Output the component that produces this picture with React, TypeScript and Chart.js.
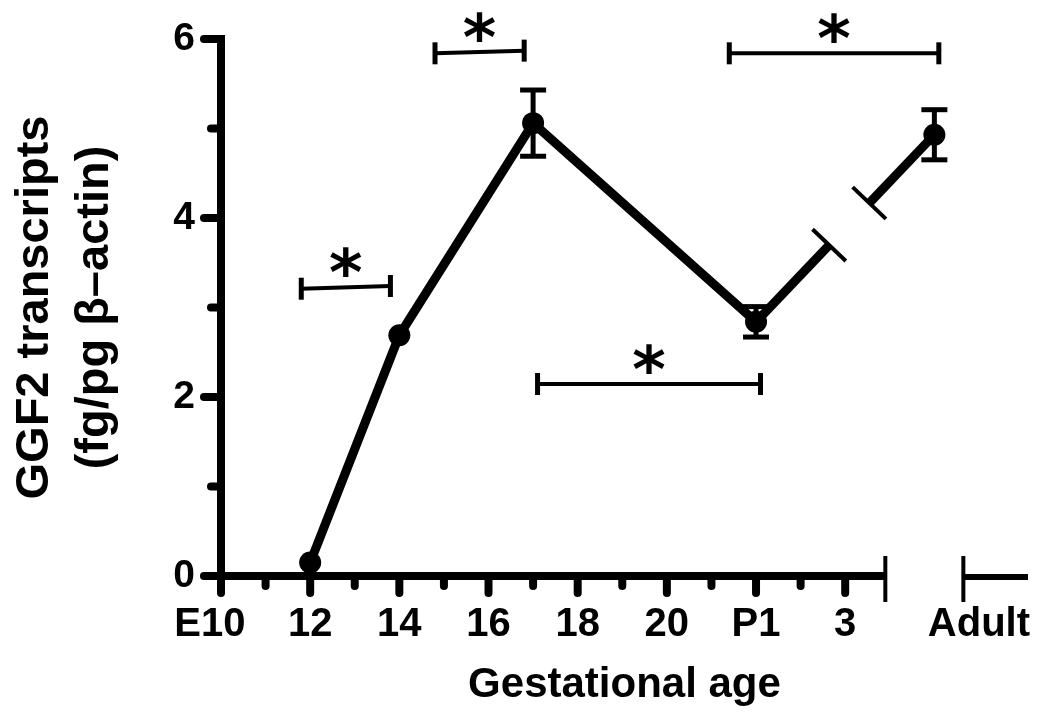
import React, { useEffect, useRef } from "react";
import { Chart, registerables } from "chart.js";

Chart.register(...registerables);

// ---- data ----
const ageValues = [12, 14, 17, 22, 26];
const meanValues = [0.15, 2.69, 5.06, 2.84, 4.93];
const semValues = [0, 0, 0.37, 0.17, 0.28];

const xTickValues = [10, 11, 12, 13, 14, 15, 16, 17, 18, 19, 20, 21, 22, 23, 24, 27];
const xTickLabels: Record<number, string> = {
  10: "E10  ", 12: "12", 14: "14", 16: "16", 18: "18", 20: "20", 22: "P1", 24: "3", 27: "Adult",
};
const yTickValues = [0, 1, 2, 3, 4, 5, 6];
const yTickLabels: Record<number, string> = { 0: "0", 2: "2", 4: "4", 6: "6" };

const sigStart = [11.8, 14.8, 17.1, 21.4];
const sigEnd = [13.8, 16.8, 22.1, 26.1];
const sigLevelStart = [3.21, 5.84, 2.145, 5.84];
const sigLevelEnd = [3.24, 5.87, 2.145, 5.84];
const sigMarks = ["*", "*", "*", "*"];

const xTitle = "Gestational age";
const yTitle = ["GGF2 transcripts", "(fg/pg \u03b2\u2013actin)"];

// ---- style ----
const FONT = '"Liberation Sans", Arial, Helvetica, sans-serif';
const X_MIN = 10;
const X_MAX = 28.1;
const AXIS_BREAK = [24.9, 26.65];
const LINE_GAP = [0.41, 0.635];

const line = (ctx: CanvasRenderingContext2D, x1: number, y1: number, x2: number, y2: number) => {
  ctx.beginPath();
  ctx.moveTo(x1, y1);
  ctx.lineTo(x2, y2);
  ctx.stroke();
};

const decorPlugin = {
  id: "decor",
  beforeDatasetsDraw(chart: any) {
    const ctx: CanvasRenderingContext2D = chart.ctx;
    const xs = chart.scales.x;
    const ys = chart.scales.y;
    const x0 = xs.getPixelForValue(X_MIN);
    const y0 = ys.getPixelForValue(0);
    const yTop = ys.getPixelForValue(6);
    ctx.save();
    ctx.strokeStyle = "#000";
    // y axis
    ctx.lineWidth = 8;
    ctx.lineCap = "butt";
    line(ctx, x0, yTop - 4, x0, y0 + 4);
    // y ticks
    ctx.lineCap = "round";
    yTickValues.forEach((v) => {
      const py = ys.getPixelForValue(v);
      const len = v % 2 === 0 ? 17 : 10;
      line(ctx, x0 - len, py, x0, py);
    });
    // x axis first part
    const b1 = xs.getPixelForValue(AXIS_BREAK[0]);
    const b2 = xs.getPixelForValue(AXIS_BREAK[1]);
    ctx.lineCap = "butt";
    line(ctx, x0, y0, b1, y0);
    ctx.lineCap = "round";
    xTickValues.forEach((v) => {
      if (v > AXIS_BREAK[0]) return;
      const px = xs.getPixelForValue(v);
      const len = v % 2 === 0 ? 17 : 10;
      line(ctx, px, y0, px, y0 + len);
    });
    // break bars
    ctx.lineCap = "butt";
    ctx.lineWidth = 4;
    line(ctx, b1, y0 - 20, b1, y0 + 26);
    line(ctx, b2, y0 - 20, b2, y0 + 26);
    ctx.lineWidth = 6;
    line(ctx, b2, y0 + 1, chart.chartArea.right, y0 + 1);
    ctx.restore();
  },
  afterDatasetsDraw(chart: any) {
    const ctx: CanvasRenderingContext2D = chart.ctx;
    const xs = chart.scales.x;
    const ys = chart.scales.y;
    const meta = chart.getDatasetMeta(0);
    ctx.save();
    ctx.strokeStyle = "#000";
    ctx.fillStyle = "#000";

    // broken segment between index 3 and 4
    const p = meta.data[3];
    const q = meta.data[4];
    const dx = q.x - p.x;
    const dy = q.y - p.y;
    const L = Math.hypot(dx, dy);
    const nx = -dy / L;
    const ny = dx / L;
    const e1x = p.x + dx * LINE_GAP[0];
    const e1y = p.y + dy * LINE_GAP[0];
    const s2x = p.x + dx * LINE_GAP[1];
    const s2y = p.y + dy * LINE_GAP[1];
    ctx.lineWidth = 9;
    ctx.lineCap = "butt";
    line(ctx, p.x, p.y, e1x, e1y);
    line(ctx, s2x, s2y, q.x, q.y);
    ctx.lineWidth = 4;
    const h = 23;
    line(ctx, e1x - nx * h, e1y - ny * h, e1x + nx * h, e1y + ny * h);
    line(ctx, s2x - nx * h, s2y - ny * h, s2x + nx * h, s2y + ny * h);

    // error bars
    ctx.lineWidth = 5;
    ageValues.forEach((a, i) => {
      const s = semValues[i];
      if (!s) return;
      const px = xs.getPixelForValue(a);
      const top = ys.getPixelForValue(meanValues[i] + s);
      const bot = ys.getPixelForValue(meanValues[i] - s);
      line(ctx, px, top, px, bot);
      line(ctx, px - 13, top, px + 13, top);
      line(ctx, px - 13, bot, px + 13, bot);
    });

    // significance brackets
    ctx.font = `bold 64px "DejaVu Sans", ${FONT}`;
    ctx.textAlign = "center";
    ctx.textBaseline = "alphabetic";
    sigStart.forEach((sx, i) => {
      const x1 = xs.getPixelForValue(sx);
      const x2 = xs.getPixelForValue(sigEnd[i]);
      const y1 = ys.getPixelForValue(sigLevelStart[i]);
      const y2 = ys.getPixelForValue(sigLevelEnd[i]);
      ctx.lineWidth = 4;
      line(ctx, x1, y1, x2, y2);
      ctx.lineWidth = 5;
      line(ctx, x1, y1 - 11, x1, y1 + 11);
      line(ctx, x2, y2 - 11, x2, y2 + 11);
      const m = ctx.measureText(sigMarks[i]);
      const cx = (x1 + x2) / 2;
      const cy = (y1 + y2) / 2 - 25;
      const base = cy + (m.actualBoundingBoxAscent - m.actualBoundingBoxDescent) / 2;
      ctx.fillText(sigMarks[i], cx, base);
    });
    ctx.restore();
  },
};

export default function App() {
  const ref = useRef<HTMLCanvasElement | null>(null);

  useEffect(() => {
    if (!ref.current) return;
    const chart = new Chart(ref.current, {
      type: "line",
      data: {
        datasets: [
          {
            data: ageValues.map((x, i) => ({ x, y: meanValues[i] })),
            borderColor: "#000",
            borderWidth: 9,
            borderJoinStyle: "round",
            pointRadius: 11,
            pointHoverRadius: 11,
            pointBackgroundColor: "#000",
            pointBorderWidth: 0,
            segment: {
              borderColor: (c: any) => (c.p0DataIndex === 3 ? "rgba(0,0,0,0)" : "#000"),
            },
          } as any,
        ],
      },
      options: {
        responsive: false,
        animation: false,
        devicePixelRatio: 1,
        layout: { autoPadding: false, padding: { top: 39, right: 22, left: 0, bottom: 0 } },
        plugins: { legend: { display: false }, tooltip: { enabled: false } },
        events: [],
        scales: {
          x: {
            type: "linear",
            min: X_MIN,
            max: X_MAX,
            grid: { display: false, drawTicks: false },
            border: { display: false },
            afterBuildTicks: (scale: any) => {
              scale.ticks = xTickValues.map((v) => ({ value: v }));
            },
            afterFit: (scale: any) => {
              scale.height = 145;
              scale.paddingLeft = 0;
              scale.paddingRight = 0;
              scale.paddingTop = 0;
              scale.paddingBottom = 0;
            },
            ticks: {
              autoSkip: false,
              maxRotation: 0,
              minRotation: 0,
              padding: 25,
              color: "#000",
              font: { family: FONT, size: 40, weight: "bold" },
              callback: (v: any) => xTickLabels[v] ?? "",
            },
            title: {
              display: true,
              text: xTitle,
              color: "#000",
              font: { family: FONT, size: 42, weight: "bold" },
              padding: { top: 0, bottom: 10 },
            },
          },
          y: {
            type: "linear",
            min: 0,
            max: 6,
            grid: { display: false, drawTicks: false },
            border: { display: false },
            afterBuildTicks: (scale: any) => {
              scale.ticks = yTickValues.map((v) => ({ value: v }));
            },
            afterFit: (scale: any) => {
              scale.width = 221;
              scale.paddingLeft = 0;
              scale.paddingRight = 0;
              scale.paddingTop = 0;
              scale.paddingBottom = 0;
            },
            ticks: {
              autoSkip: false,
              padding: 26,
              color: "#000",
              font: { family: FONT, size: 39, weight: "bold" },
              callback: (v: any) => yTickLabels[v] ?? "",
            },
            title: {
              display: true,
              text: yTitle,
              color: "#000",
              font: { family: FONT, size: 47, weight: "bold", lineHeight: 1.28 },
              padding: { top: 5, bottom: 0 },
            },
          },
        },
      },
      plugins: [decorPlugin],
    });
    return () => chart.destroy();
  }, []);

  return (
    <div style={{ position: "fixed", left: 0, top: 0, width: 1050, height: 721, background: "#fff" }}>
      <canvas ref={ref} width={1050} height={721} style={{ display: "block" }} />
    </div>
  );
}
